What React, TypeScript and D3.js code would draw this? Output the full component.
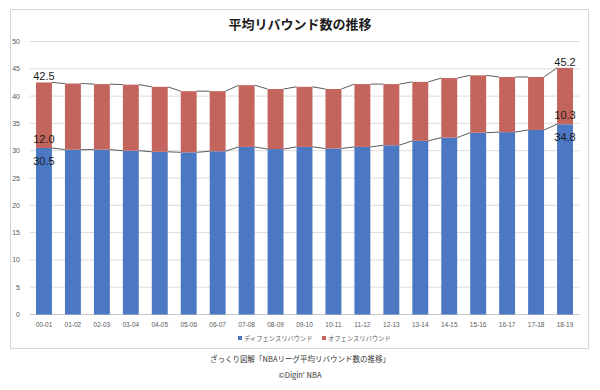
import { scaleBand, scaleLinear, format } from "d3";

const seasons = [
  "00-01", "01-02", "02-03", "03-04", "04-05", "05-06", "06-07", "07-08", "08-09", "09-10",
  "10-11", "11-12", "12-13", "13-14", "14-15", "15-16", "16-17", "17-18", "18-19",
];
const defense = [
  30.5, 30.2, 30.2, 30.0, 29.8, 29.7, 29.9, 30.7, 30.3, 30.7,
  30.4, 30.7, 31.0, 31.8, 32.4, 33.3, 33.4, 33.8, 34.84,
];
const offense = [
  12.0, 12.1, 12.0, 12.1, 11.9, 11.2, 11.0, 11.3, 11.0, 11.0,
  10.9, 11.5, 11.2, 10.8, 10.9, 10.5, 10.1, 9.7, 10.33,
];
const yTicks = [0, 5, 10, 15, 20, 25, 30, 35, 40, 45, 50];
const labelledIndexes = [0, seasons.length - 1];

const title = "平均リバウンド数の推移";
const legendNames = ["ディフェンスリバウンド", "オフェンスリバウンド"];
const footerLines = ["ざっくり図解「NBAリーグ平均リバウンド数の推移」", "©Digin' NBA"];

const blue = "#4c78c3";
const red = "#c3645d";
const jp = "'Noto Sans CJK JP', 'Noto Sans', sans-serif";
const sans = "'Liberation Sans', Arial, sans-serif";

export default function App() {
  const width = 600;
  const height = 390;
  const fmt = format(".1f");

  const x = scaleBand<string>()
    .domain(seasons)
    .range([29.5, 579.5])
    .paddingInner(0.45)
    .paddingOuter(0.225);

  const y = scaleLinear().domain([0, 50]).range([314.5, 41.5]);
  const bw = x.bandwidth();
  const totals = defense.map((d, i) => d + offense[i]);

  // excel-style series lines between neighbouring bars
  const seriesLine = (vals: number[]) =>
    vals.slice(0, -1).map((v, i) => (
      <line
        key={i}
        x1={(x(seasons[i]) ?? 0) + bw}
        y1={y(v)}
        x2={x(seasons[i + 1]) ?? 0}
        y2={y(vals[i + 1])}
        stroke="#4a4a4a"
        strokeWidth="0.9"
      />
    ));

  return (
    <svg
      width={width}
      height={height}
      viewBox={`0 0 ${width} ${height}`}
      style={{ position: "absolute", left: 0, top: 0, background: "#fff" }}
    >
      <rect x="10.5" y="9.5" width="578" height="339" fill="#fff" stroke="#d6d6d6" strokeWidth="1" />

      <text x="300" y="29" textAnchor="middle" fontFamily={jp} fontWeight="bold" fontSize="13" fill="#1a1a1a">
        {title}
      </text>

      {yTicks.map((t) => (
        <g key={t}>
          <line x1="29.5" x2="579.5" y1={y(t)} y2={y(t)} stroke={t === 0 ? "#c8c8c8" : "#dcdcdc"} strokeWidth="1" />
          <text x="20" y={y(t) + 2.5} textAnchor="end" fontFamily={sans} fontSize="7" fill="#595959">
            {t}
          </text>
        </g>
      ))}

      {seasons.map((s, i) => (
        <g key={s}>
          <rect x={x(s)} y={y(defense[i])} width={bw} height={y(0) - y(defense[i])} fill={blue} />
          <rect x={x(s)} y={y(totals[i])} width={bw} height={y(defense[i]) - y(totals[i])} fill={red} />
          <text
            x={(x(s) ?? 0) + bw / 2}
            y="326.5"
            textAnchor="middle"
            fontFamily={sans}
            fontSize="6.5"
            fill="#595959"
          >
            {s}
          </text>
        </g>
      ))}

      {seriesLine(defense)}
      {seriesLine(totals)}

      {labelledIndexes.map((i) => {
        const cx = (x(seasons[i]) ?? 0) + bw / 2;
        return (
          <g key={i} fontFamily={sans} fontSize="11" fill="#1a1a1a" textAnchor="middle">
            <text x={cx} y={y(totals[i]) - 2}>{fmt(totals[i])}</text>
            <text x={cx} y={y(defense[i]) - 5}>{fmt(offense[i])}</text>
            <text x={cx} y={y(defense[i]) + 17}>{fmt(defense[i])}</text>
          </g>
        );
      })}

      {legendNames.map((name, i) => {
        const lx = i === 0 ? 238 : 322;
        return (
          <g key={name}>
            <rect x={lx} y="336" width="4" height="4" fill={i === 0 ? blue : red} />
            <text x={lx + 6} y="340.5" fontFamily={jp} fontSize="6.3" fill="#595959">
              {name}
            </text>
          </g>
        );
      })}

      {footerLines.map((line, i) => (
        <text
          key={line}
          x="300"
          y={i === 0 ? 362 : 378}
          textAnchor="middle"
          fontFamily={jp}
          fontSize="7.5"
          fill="#333"
        >
          {line}
        </text>
      ))}
    </svg>
  );
}
